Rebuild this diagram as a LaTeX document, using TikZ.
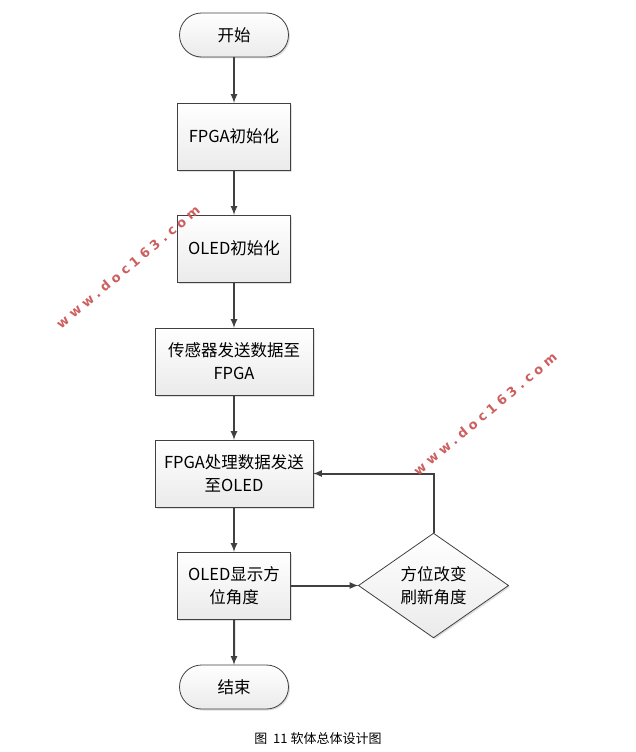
\documentclass[tikz,border=0pt]{standalone}
\usepackage{fontspec}
\setmainfont{Noto Sans CJK SC}
\newfontfamily\markfont[LetterSpace=32]{DejaVu Sans}
\usetikzlibrary{positioning,shapes.geometric,shapes.misc,shadows}
\definecolor{linegray}{RGB}{64,64,64}
\definecolor{markred}{RGB}{205,95,95}
\tikzset{
  flow/.style={draw=linegray,line width=0.8pt,top color=white,bottom color=gray!16,
    drop shadow={shadow xshift=1.5pt,shadow yshift=-1.5pt,opacity=0.25},
    align=center,outer sep=0pt,inner sep=2pt,font=\fontsize{16.5}{23}\selectfont},
  box/.style={flow,rectangle,minimum width=113pt,minimum height=67pt},
  widebox/.style={box,minimum width=158pt},
  term/.style={flow,rounded rectangle,minimum width=113pt,minimum height=44pt},
  decide/.style={flow,diamond,minimum width=150pt,minimum height=96pt,inner sep=0pt},
  arrow/.style={draw=linegray,line width=2pt,-latex},
  watermark/.style={text=markred,font=\markfont\bfseries\fontsize{13}{13}\selectfont,rotate=40}
}
\begin{document}
\begin{tikzpicture}[x=1pt,y=1pt,node distance=46pt]
\useasboundingbox (0,0) rectangle (636,-752);
\node[term] (start) at (234,-35) {开始};
\node[box,below=of start] (fpgainit) {FPGA初始化};
\node[box,below=45pt of fpgainit] (oledinit) {OLED初始化};
\node[widebox,below=of oledinit] (sensor) {传感器发送数据至\\FPGA};
\node[widebox,below=45pt of sensor] (process) {FPGA处理数据发送\\至OLED};
\node[box,below=45pt of process] (show) {OLED显示方\\位角度};
\node[term,below=of show] (stop) {结束};
\node[decide,right=68pt of show] (turn) {方位改变\\刷新角度};
% connectors
\draw[arrow] (start) -- (fpgainit);
\draw[arrow] (fpgainit) -- (oledinit);
\draw[arrow] (oledinit) -- (sensor);
\draw[arrow] (sensor) -- (process);
\draw[arrow] (process) -- (show);
\draw[arrow] (show) -- (stop);
\draw[arrow] (show) -- (turn);
\draw[arrow] (turn.north) |- (process.east);
% caption and marks
\node[font=\fontsize{13}{13}\selectfont] (caption) at (318,-739) {图\ \ 11 软体总体设计图};
\node[watermark] (mark1) at (128,-267) {www.doc163.com};
\node[watermark] (mark2) at (485,-414) {www.doc163.com};
\end{tikzpicture}
\end{document}
